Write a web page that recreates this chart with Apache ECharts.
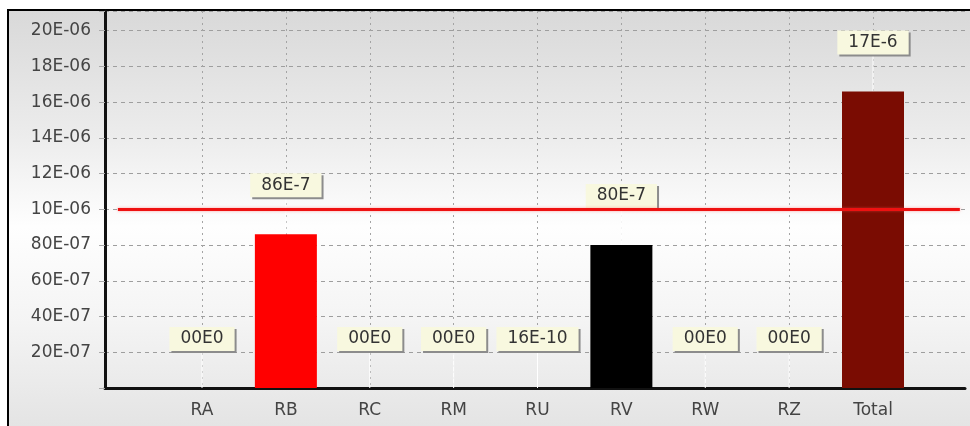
<!DOCTYPE html>
<html>
<head>
<meta charset="utf-8">
<script src="https://cdn.jsdelivr.net/npm/echarts@6/dist/echarts.min.js"></script>
<style>
  html, body { margin: 0; padding: 0; background: #fff; }
  #frame {
    position: absolute; left: 7px; top: 9px; width: 963px; height: 417px;
    border-left: 2px solid #000; border-top: 2px solid #000; box-sizing: border-box;
    background: linear-gradient(to bottom, #d9d9d9 0%, #ececec 30%, #fefefe 52%, #f4f4f4 75%, #e4e4e4 100%);
  }
  #chart { position: absolute; left: 0; top: 0; width: 970px; height: 426px; }
</style>
</head>
<body>
<div id="frame"></div>
<div id="chart"></div>
<script>
// categories + values
const categories = ['RA', 'RB', 'RC', 'RM', 'RU', 'RV', 'RW', 'RZ', 'Total'];
const values = [0, 8.6e-6, 0, 0, 1.6e-9, 8.0e-6, 0, 0, 16.6e-6];
const valueLabels = ['00E0', '86E-7', '00E0', '00E0', '16E-10', '80E-7', '00E0', '00E0', '17E-6'];
const yTickLabels = ['', '20E-07', '40E-07', '60E-07', '80E-07', '10E-06', '12E-06', '14E-06', '16E-06', '18E-06', '20E-06'];
const threshold = 10e-6;

// styling (kept apart from the data)
const barColors = ['#ff0000', '#ff0000', '#ff0000', '#ff0000', '#808080', '#000000', '#ff0000', '#ff0000', '#7a0c02'];
const yMax = 21.1e-6;
const yStep = 2e-6;
// the screenshot is stretched sideways, so a wide face fits its text best
const font = 'DejaVu Sans, Verdana, sans-serif';

const chart = echarts.init(document.getElementById('chart'), null, { renderer: 'canvas' });

chart.setOption({
  backgroundColor: 'transparent',
  animation: false,
  grid: [
    // background grid: y axis, horizontal grid, x axis line, threshold
    { left: 105, right: 5, top: 11, bottom: 38 },
    // bars: category centres run from RA (x=202) to Total (x=873)
    { left: 202, right: 97, top: 11, bottom: 38 }
  ],
  xAxis: [
    {
      gridIndex: 0, type: 'value', min: 0, max: 1,
      axisLine: { show: true, onZero: false, lineStyle: { color: '#111', width: 3 } },
      axisTick: { show: false }, axisLabel: { show: false }, splitLine: { show: false }
    },
    {
      gridIndex: 1, type: 'category', data: categories, boundaryGap: false,
      axisLine: { show: false }, axisTick: { show: false },
      axisLabel: { color: '#444', fontFamily: font, fontSize: 17, margin: 14 },
      splitLine: { show: true, lineStyle: { color: '#a4a4a4', type: [2, 4], width: 1 } }
    }
  ],
  yAxis: [
    {
      gridIndex: 0, type: 'value', min: 0, max: yMax, interval: yStep,
      axisLine: { show: true, lineStyle: { color: '#111', width: 3 } },
      axisTick: { show: true, length: 6, lineStyle: { color: '#aaa' } },
      axisLabel: {
        color: '#444', fontFamily: font, fontSize: 17, margin: 14,
        formatter: (v, i) => yTickLabels[i] || ''
      },
      splitLine: { show: true, lineStyle: { color: '#9e9e9e', type: [4, 4], width: 1 } }
    },
    {
      gridIndex: 1, type: 'value', min: 0, max: yMax, interval: yStep,
      show: false, splitLine: { show: false }
    }
  ],
  series: [
    {
      type: 'line', xAxisIndex: 0, yAxisIndex: 0, data: [],
      markLine: {
        silent: true, symbol: 'none', label: { show: false },
        lineStyle: { color: '#ee1111', width: 3, type: 'solid', shadowColor: 'rgba(255,80,80,0.5)', shadowBlur: 3 },
        data: [[{ xAxis: 0.015, yAxis: threshold }, { xAxis: 0.994, yAxis: threshold }]]
      }
    },
    {
      type: 'bar', xAxisIndex: 1, yAxisIndex: 1, barWidth: 62, clip: false,
      data: values.map((v, i) => ({ value: v, itemStyle: { color: barColors[i] } })),
      label: {
        show: true, position: 'top', distance: 0,
        formatter: p => valueLabels[p.dataIndex],
        fontFamily: font, fontSize: 17, color: '#333', lineHeight: 18,
        backgroundColor: '#f8f8df', padding: [3, 11],
        shadowColor: '#8c8c8c', shadowOffsetX: 2, shadowOffsetY: 2, shadowBlur: 0
      },
      labelLayout: { dy: -37 },
      labelLine: { show: true, lineStyle: { color: '#ffffff', width: 1 } }
    }
  ]
});
</script>
</body>
</html>
